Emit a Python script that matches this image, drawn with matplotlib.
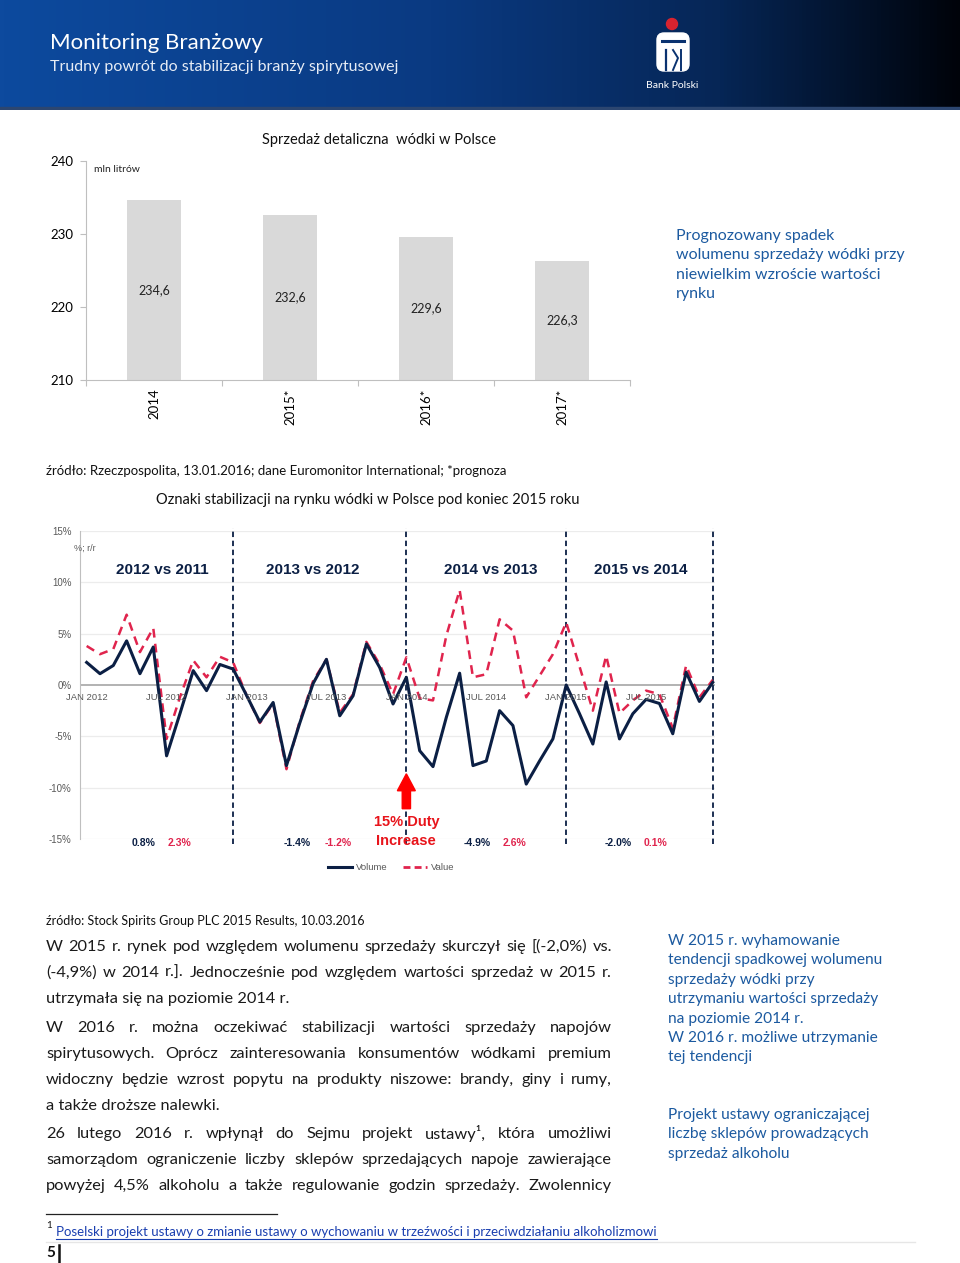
import matplotlib

matplotlib.use("Agg")
import matplotlib.pyplot as plt
import numpy as np
from matplotlib.colors import LinearSegmentedColormap
from matplotlib.lines import Line2D
from matplotlib.patches import Circle, FancyBboxPatch, Rectangle

W, H = 960, 1263
BODY_FONT = ["Lato", "DejaVu Sans"]
CHART_FONT = ["Liberation Sans", "DejaVu Sans"]
NAVY = "#0b1f44"
CRIMSON = "#e0244d"
BLUE = "#1c5aa0"

# --- data -------------------------------------------------------------
years = ["2014", "2015*", "2016*", "2017*"]
sales = [234.6, 232.6, 229.6, 226.3]

volume = [
    2.2, 1.1, 1.9, 4.3, 1.1, 3.7, -6.9, -2.8, 1.4, -0.55, 2.0, 1.55,
    -1.0, -3.6, -1.7, -7.85, -3.7, 0.15, 2.5, -3.0, -1.05, 4.0, 1.7, -1.85,
    0.75, -6.4, -7.95, -3.15, 1.15, -7.85, -7.4, -2.5, -3.95, -9.65, -7.4, -5.25,
    0.0, -2.8, -5.75, 0.3, -5.25, -2.8, -1.4, -1.8, -4.75, 1.25, -1.6, 0.25,
]
value = [
    3.8, 3.0, 3.5, 6.85, 3.2, 5.55, -5.25, -1.2, 2.4, 0.75, 2.75, 2.2,
    -1.0, -3.7, -1.8, -8.2, -3.5, 0.4, 2.5, -2.7, -0.9, 4.2, 2.0, -0.9,
    2.7, -1.3, -1.5, 4.8, 9.25, 0.75, 1.05, 6.4, 5.3, -1.2, 0.9, 3.0,
    6.1, 1.8, -2.5, 2.85, -2.75, -1.5, -0.55, -0.9, -4.2, 1.9, -1.2, 0.5,
]
month_ticks = [0, 6, 12, 18, 24, 30, 36, 42]
month_labels = ["JAN 2012", "JUL 2012", "JAN 2013", "JUL 2013",
                "JAN 2014", "JUL 2014", "JAN 2015", "JUL 2015"]
dividers = [11, 24, 36, 47]
periods = ["2012 vs 2011", "2013 vs 2012", "2014 vs 2013", "2015 vs 2014"]
period_centers = [5.7, 17.0, 30.3, 41.6]
period_volume = ["0.8%", "-1.4%", "-4.9%", "-2.0%"]
period_value = ["2.3%", "-1.2%", "2.6%", "0.1%"]
period_vol_x = [4.25, 15.8, 29.3, 39.9]
period_val_x = [7.0, 18.9, 32.1, 42.7]

body = [
    ("W 2015 r. rynek pod względem wolumenu sprzedaży skurczył się [(-2,0%) vs.", True),
    ("(-4,9%) w 2014 r.]. Jednocześnie pod względem wartości sprzedaż w 2015 r.", True),
    ("utrzymała się na poziomie 2014 r.", False),
    ("W 2016 r. można oczekiwać stabilizacji wartości sprzedaży napojów", True),
    ("spirytusowych. Oprócz zainteresowania konsumentów wódkami premium", True),
    ("widoczny będzie wzrost popytu na produkty niszowe: brandy, giny i rumy,", True),
    ("a także droższe nalewki.", False),
    ("26 lutego 2016 r. wpłynął do Sejmu projekt ustawy¹, która umożliwi", True),
    ("samorządom ograniczenie liczby sklepów sprzedających napoje zawierające", True),
    ("powyżej 4,5% alkoholu a także regulowanie godzin sprzedaży. Zwolennicy", True),
]
body_y = [947, 973, 999, 1028, 1054, 1080, 1106, 1134, 1160, 1186]

side_1 = ["W 2015 r. wyhamowanie", "tendencji spadkowej wolumenu",
          "sprzedaży wódki przy", "utrzymaniu wartości sprzedaży",
          "na poziomie 2014 r.", "W 2016 r. możliwe utrzymanie", "tej tendencji"]
side_2 = ["Projekt ustawy ograniczającej", "liczbę sklepów prowadzących",
          "sprzedaż alkoholu"]
forecast_note = ["Prognozowany spadek", "wolumenu sprzedaży wódki przy",
                 "niewielkim wzroście wartości", "rynku"]

fig = plt.figure(figsize=(W / 100, H / 100), dpi=100)
renderer = fig.canvas.get_renderer()


def ft(x, y, s, **kw):
    kw.setdefault("family", BODY_FONT)
    kw.setdefault("va", "center")
    return fig.text(x / W, 1 - y / H, s, **kw)


def justified(line, x0, x1, y, full, **kw):
    if not full:
        return ft(x0, y, line, **kw)
    words = line.split(" ")
    objs = [ft(x0, y, w, **kw) for w in words]
    widths = [o.get_window_extent(renderer).width for o in objs]
    gap = (x1 - x0 - sum(widths)) / (len(words) - 1)
    x = x0
    for o, w in zip(objs, widths):
        o.set_x(x / W)
        x += w + gap


# --- header band ------------------------------------------------------
hdr = fig.add_axes([0, 1 - 110 / H, 1, 110 / H])
cmap = LinearSegmentedColormap.from_list(
    "hdr", [(0, "#0d4a9e"), (0.45, "#0a3a82"), (0.75, "#062656"), (1, "#00030a")])
hdr.imshow(np.linspace(0, 1, 256)[None, :], cmap=cmap, aspect="auto",
           extent=(0, W, 110, 0))
hdr.set_xlim(0, W)
hdr.set_ylim(110, 0)
hdr.axis("off")
hdr.add_patch(Rectangle((0, 107), W, 3, color="#2c4670"))
hdr.add_patch(Circle((672, 24), 5.5, color="#d8232f"))
hdr.add_patch(FancyBboxPatch((657, 33), 32, 38, boxstyle="round,pad=0,rounding_size=7",
                             color="white"))
hdr.plot([662, 684], [41, 41], color="#0a3270", lw=2.2)
hdr.plot([666, 666], [50, 70], color="#0a3270", lw=1.6)
hdr.plot([673, 678, 673], [50, 58, 70], color="#0a3270", lw=1.4)
hdr.plot([681, 681], [50, 70], color="#0a3270", lw=1.4)
ft(50, 43, "Monitoring Branżowy", color="white", fontsize=16)
ft(50, 67, "Trudny powrót do stabilizacji branży spirytusowej", color="#e6ecf5",
   fontsize=11.5)
ft(672, 85, "Bank Polski", color="white", fontsize=7.5, ha="center")

# --- bar chart --------------------------------------------------------
axb = fig.add_axes([86 / W, 1 - 380 / H, 544 / W, 219 / H])
xb = np.arange(len(years))
bars = axb.bar(xb, np.array(sales) - 210, bottom=210, width=0.4, color="#d9d9d9")
axb.bar_label(bars, labels=[f"{v:.1f}".replace(".", ",") for v in sales],
              label_type="center", fontsize=9, color="#222222", family=BODY_FONT)
axb.set_xlim(-0.5, 3.5)
axb.set_ylim(210, 240)
axb.set_yticks([210, 220, 230, 240])
axb.set_xticks(np.arange(-0.5, 4.0, 1.0))
axb.set_xticklabels([])
axb.set_xticks(xb, minor=True)
axb.set_xticklabels(years, minor=True, rotation=90, fontsize=9.5, family=BODY_FONT)
axb.tick_params(axis="x", which="minor", length=0, pad=6)
axb.tick_params(axis="x", which="major", length=4, color="#bfbfbf")
axb.tick_params(axis="y", length=4, color="#bfbfbf", pad=5, labelsize=9.5)
for lab in axb.get_yticklabels():
    lab.set_family(BODY_FONT)
for s in ("top", "right"):
    axb.spines[s].set_visible(False)
for s in ("left", "bottom"):
    axb.spines[s].set_color("#bfbfbf")
axb.text(0.015, 0.96, "mln litrów", transform=axb.transAxes, fontsize=7.5,
         family=BODY_FONT, color="#222222", va="center")
ft(379, 140, "Sprzedaż detaliczna  wódki w Polsce", fontsize=10.5, ha="center",
   color="#111111")
for i, line in enumerate(forecast_note):
    ft(676, 236 + i * 19.3, line, color=BLUE, fontsize=11.5)
ft(46, 471, "źródło: Rzeczpospolita, 13.01.2016; dane Euromonitor International; *prognoza",
   fontsize=9.5, color="#111111")
ft(368, 500, "Oznaki stabilizacji na rynku wódki w Polsce pod koniec 2015 roku",
   fontsize=10.5, ha="center", color="#111111")

# --- line chart -------------------------------------------------------
axl = fig.add_axes([80 / W, 1 - 839 / H, 635 / W, 308 / H])
months = np.arange(len(volume))
axl.set_xlim(-0.5, 47.17)
axl.set_ylim(-15, 15)
axl.set_yticks([15, 10, 5, 0, -5, -10, -15])
axl.set_yticklabels(["15%", "10%", "5%", "0%", "-5%", "-10%", "-15%"])
axl.tick_params(axis="y", length=0, pad=6, labelsize=7, labelcolor="#595959")
for lab in axl.get_yticklabels():
    lab.set_family(CHART_FONT)
axl.set_xticks([])
for y in [15, 10, 5, -5, -10, -15]:
    axl.axhline(y, color="#ececec", lw=0.9, zorder=0)
axl.axhline(0, color="#a6a6a6", lw=1.2, zorder=1)
for s in ("top", "right", "bottom"):
    axl.spines[s].set_visible(False)
axl.spines["left"].set_color("#bfbfbf")
axl.vlines(dividers, -15.5, 15.3, colors=NAVY, linestyles=(0, (3, 2)), lw=1.3,
           clip_on=False, zorder=2)
axl.plot(months, value, color=CRIMSON, lw=1.8, ls=(0, (3.5, 2.5)), zorder=3,
         label="Value")
axl.plot(months, volume, color=NAVY, lw=2.2, zorder=4, label="Volume")
for m, lab in zip(month_ticks, month_labels):
    axl.text(m, -1.2, lab, ha="center", va="center", fontsize=6.8, color="#595959",
             family=CHART_FONT, zorder=5)
axl.text(-0.95, 13.3, "%; r/r", ha="left", va="center", fontsize=6.5, color="#595959",
         family=CHART_FONT)
for c, lab in zip(period_centers, periods):
    axl.text(c, 11.2, lab, ha="center", va="center", fontsize=11, fontweight="bold",
             color=NAVY, family=CHART_FONT)
for xv, xw, sv, sw in zip(period_vol_x, period_val_x, period_volume, period_value):
    axl.text(xv, -15.4, sv, ha="center", va="center", fontsize=7.5, fontweight="bold",
             color=NAVY, family=CHART_FONT, clip_on=False)
    axl.text(xw, -15.4, sw, ha="center", va="center", fontsize=7.5, fontweight="bold",
             color=CRIMSON, family=CHART_FONT, clip_on=False)
axl.arrow(24, -12.05, 0, 3.4, width=0.62, head_width=1.35, head_length=1.65,
          length_includes_head=True, color="#ff0000", zorder=6)
axl.text(24, -13.3, "15% Duty", ha="center", va="center", fontsize=10.5,
         fontweight="bold", color="#e8141b", family=CHART_FONT, zorder=6)
axl.text(24, -15.15, "Increase", ha="center", va="center", fontsize=10.5,
         fontweight="bold", color="#e8141b", family=CHART_FONT, zorder=6, clip_on=False)
handles = [Line2D([], [], color=NAVY, lw=2.2), Line2D([], [], color=CRIMSON, lw=2,
                                                       ls=(0, (2.5, 1.5)))]
axl.legend(handles, ["Volume", "Value"], loc="center", bbox_to_anchor=(0.49, -0.093),
           ncol=2, frameon=False, handlelength=2.6, handletextpad=0.4,
           columnspacing=1.6, prop={"family": CHART_FONT, "size": 6.8},
           labelcolor="#595959")

ft(46, 921, "źródło: Stock Spirits Group PLC 2015 Results, 10.03.2016", fontsize=9,
   color="#111111")

# --- body text --------------------------------------------------------
for (line, full), y in zip(body, body_y):
    justified(line, 46, 612, y, full, fontsize=11.8, color="#1a1a1a")
for i, line in enumerate(side_1):
    ft(668, 941 + i * 19.4, line, fontsize=11.2, color=BLUE)
for i, line in enumerate(side_2):
    ft(668, 1115 + i * 19.4, line, fontsize=11.2, color=BLUE)

# --- footnote ---------------------------------------------------------
fig.add_artist(Line2D([46 / W, 277 / W], [1 - 1214 / H] * 2, color="#222222", lw=0.9))
ft(46, 1225, "1", fontsize=7, color="#111111")
link = ft(56, 1232, "Poselski projekt ustawy o zmianie ustawy o wychowaniu w trzeźwości "
          "i przeciwdziałaniu alkoholizmowi", fontsize=9.5, color="#1a3fb0")
lw_px = link.get_window_extent(renderer).width
fig.add_artist(Line2D([56 / W, (56 + lw_px) / W], [1 - 1239 / H] * 2, color="#1a3fb0",
                      lw=0.8))
fig.add_artist(Line2D([46 / W, 915 / W], [1 - 1242 / H] * 2, color="#e6e6e6", lw=1))
ft(46, 1253, "5", fontsize=11, fontweight="bold", color="#111111")
fig.add_artist(Line2D([59 / W, 59 / W], [1 - 1245 / H, 1 - 1262 / H], color="#111111",
                      lw=1.8))

fig.savefig("out.png", dpi=100)
